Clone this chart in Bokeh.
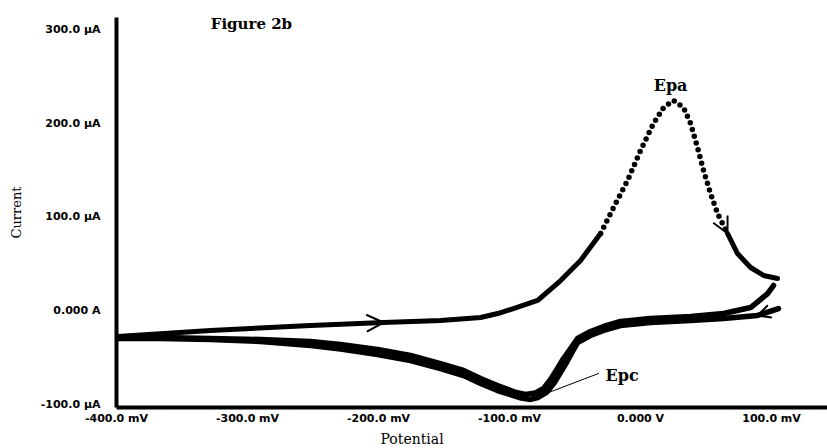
from bokeh.plotting import figure
from bokeh.models import Range1d, FixedTicker, Label, Arrow, OpenHead, Title
from bokeh.embed import file_html
from bokeh.resources import INLINE

# ---- data (potential in mV, current in µA) ----
fwd_mv = [-399.2, -328.2, -251.9, -196.2, -152.7, -122.0, -109.0, -97.0, -78.6, -61.0, -45.8,
          -30.5, -20.6, -9.9, 0.0, 9.9, 17.6, 25.2, 32.8, 38.2, 43.5,
          48.1, 53.4, 58.8, 66.4, 74.0, 84.0, 93.9, 104.6]
fwd_ua = [-27.7, -21.3, -16.0, -12.8, -10.7, -7.5, -3.2, 2.1, 10.7, 32.0, 53.4,
          82.2, 110.0, 138.7, 170.8, 199.6, 216.6, 224.1, 216.6, 199.6, 174.0,
          149.4, 124.9, 103.5, 82.2, 60.8, 45.9, 37.4, 34.2]

rev1_mv = [101.5, 97.0, 84.0, 63.4, 38.2, 7.6, -15.3, -28.2, -38.2, -48.1,
           -53.4, -58.8, -63.4, -68.7, -74.0, -80.2, -87.8, -95.0, -109.2, -122.1,
           -135.1, -152.7, -175.6, -200.8, -229.0, -251.9, -290.0, -328.2, -366.4, -399.2]
rev1_ua = [26.7, 18.0, 3.2, -3.2, -6.4, -8.5, -11.7, -17.0, -22.4, -29.9,
           -40.6, -51.2, -61.9, -73.6, -83.2, -88.0, -89.6, -87.5, -80.0, -72.6,
           -64.0, -56.6, -48.0, -41.6, -36.3, -33.1, -30.9, -29.9, -28.8, -28.8]

rev2_mv = [105.3, 89.3, 63.4, 38.2, 7.6, -15.3, -28.2, -38.2, -48.1, -52.0,
           -56.5, -61.0, -66.0, -71.5, -78.5, -84.0, -91.0, -100.0, -109.2, -122.1,
           -135.1, -152.7, -175.6, -200.8, -229.0, -251.9, -290.0, -328.2, -366.4, -399.2]
rev2_ua = [2.1, -5.3, -8.5, -10.7, -12.8, -16.0, -21.3, -26.7, -34.2, -44.0,
           -55.5, -66.0, -77.5, -87.0, -93.0, -94.9, -93.5, -89.6, -85.4, -77.8,
           -69.4, -61.9, -53.4, -46.9, -41.0, -37.4, -33.1, -31.0, -29.9, -29.9]

x_ticks = [-400, -300, -200, -100, 0, 100]
x_tick_labels = ["-400.0 mV", "-300.0 mV", "-200.0 mV", "-100.0 mV", "0.000 V", "100.0 mV"]
y_ticks = [-100, 0, 100, 200, 300]
y_tick_labels = ["-100.0 \u00b5A", "0.000 A", "100.0 \u00b5A", "200.0 \u00b5A", "300.0 \u00b5A"]

# ---- figure ----
p = figure(width=827, height=448,
           x_range=Range1d(-400, 142.7), y_range=Range1d(-103.5, 312.7),
           output_backend="svg", toolbar_location=None,
           min_border_left=116, min_border_right=0, min_border_top=17, min_border_bottom=41)
p.outline_line_color = None
p.grid.visible = False
p.background_fill_color = "white"

for ax, ticks, labels, standoff in ((p.xaxis, x_ticks, x_tick_labels, 4),
                                     (p.yaxis, y_ticks, y_tick_labels, 16)):
    ax.ticker = FixedTicker(ticks=ticks)
    ax.major_label_overrides = {t: l for t, l in zip(ticks, labels)}
    ax.axis_line_width = 4
    ax.axis_line_color = "black"
    ax.major_tick_line_color = None
    ax.minor_tick_line_color = None
    ax.major_tick_out = 0
    ax.major_tick_in = 0
    ax.major_label_text_font = "DejaVu Sans"
    ax.major_label_text_font_style = "bold"
    ax.major_label_text_font_size = "11px"
    ax.major_label_text_color = "black"
    ax.major_label_standoff = standoff

p.yaxis.axis_label = "Current"
p.yaxis.axis_label_text_font = "DejaVu Serif"
p.yaxis.axis_label_text_font_style = "normal"
p.yaxis.axis_label_text_font_size = "13px"
p.yaxis.axis_label_text_color = "black"
p.yaxis.axis_label_standoff = 14

# x axis title, placed left of the frame centre as in the original
p.add_layout(Title(text="Potential", align="left", offset=264, standoff=3,
                   text_font="DejaVu Serif", text_font_style="normal",
                   text_font_size="14px", text_color="black"), "below")

LWF = 5
LWR = 5.5
i1 = 11   # start of dotted (fast) section of forward scan
i2 = 24   # end of dotted section
p.line(fwd_mv[:i1 + 1], fwd_ua[:i1 + 1], line_color="black", line_width=LWF, line_cap="round", line_join="round")
p.line(fwd_mv[i1:i2 + 1], fwd_ua[i1:i2 + 1], line_color="black", line_width=5.5,
       line_dash="0 7", line_cap="round", line_join="round")
p.line(fwd_mv[i2:], fwd_ua[i2:], line_color="black", line_width=LWF, line_cap="round", line_join="round")
p.line(rev1_mv, rev1_ua, line_color="black", line_width=LWR, line_cap="round", line_join="round")
p.line(rev2_mv, rev2_ua, line_color="black", line_width=LWR, line_cap="round", line_join="round")

# direction arrows on the scans
def add_arrow(xs, ys, k, size):
    p.add_layout(Arrow(end=OpenHead(size=size, line_width=2, line_color="black"),
                       x_start=xs[k - 1], y_start=ys[k - 1], x_end=xs[k], y_end=ys[k],
                       line_alpha=0))

add_arrow(fwd_mv, fwd_ua, 3, 17)
add_arrow(fwd_mv, fwd_ua, 24, 16)
add_arrow(rev2_mv, rev2_ua, 1, 13)

# peak annotations
ipk = fwd_ua.index(max(fwd_ua))
p.add_layout(Label(x=fwd_mv[ipk], y=fwd_ua[ipk], text="Epa", text_align="center",
                   text_baseline="bottom", y_offset=6, x_offset=-3, text_color="black",
                   text_font="DejaVu Serif", text_font_style="bold", text_font_size="16px"))

imin = rev2_ua.index(min(rev2_ua))
epc_x, epc_y = -26.7, -69.4
p.segment(x0=[rev2_mv[imin]], y0=[rev2_ua[imin]], x1=[epc_x - 5], y1=[epc_y + 2.4],
          line_color="black", line_width=1)
p.add_layout(Label(x=epc_x, y=epc_y, text="Epc", text_align="left", text_baseline="middle",
                   text_color="black",
                   text_font="DejaVu Serif", text_font_style="bold", text_font_size="16px"))

p.add_layout(Label(x=-297, y=306, text="Figure 2b", text_align="center", text_baseline="middle",
                   text_color="black",
                   text_font="DejaVu Serif", text_font_style="bold", text_font_size="15px"))

open("out.html", "w").write(file_html(p, INLINE))
